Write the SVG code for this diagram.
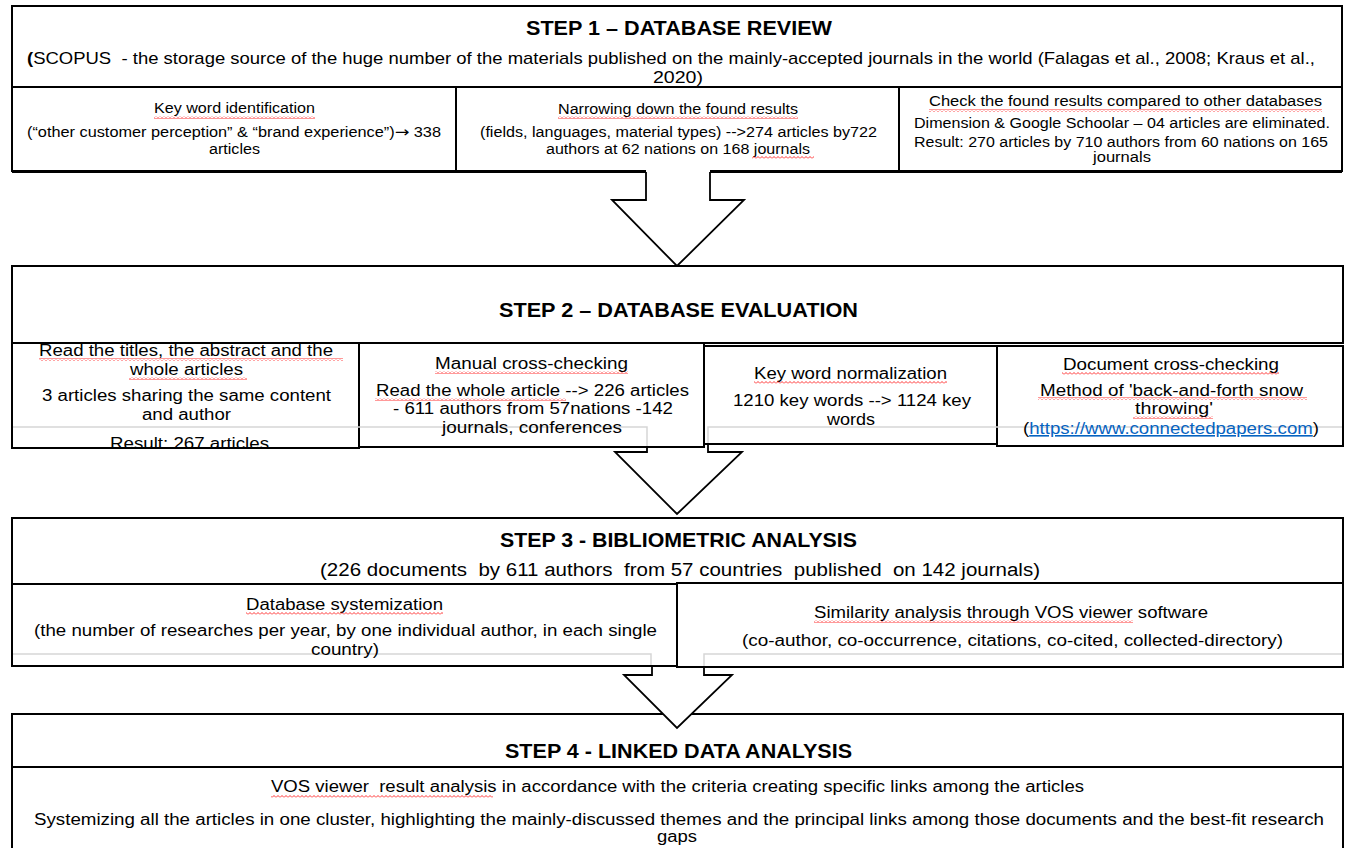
<svg xmlns="http://www.w3.org/2000/svg" width="1345" height="848" viewBox="0 0 1345 848">
<style>
text { font-family: "Liberation Sans", Arial, sans-serif; fill: #000; white-space: pre; text-anchor: middle; }
.t { font-weight: bold; font-size: 20px; }
.s14 { font-size: 14px; }
.s16 { font-size: 16px; }
.s17 { font-size: 17px; }
.s18 { font-size: 18px; }
.box { fill: #fff; stroke: #000; stroke-width: 2; }
.ln { stroke: #000; stroke-width: 2; fill: none; }
.gr { stroke: #d6d6d6; stroke-width: 1.5; fill: none; }
.sq { fill: url(#sq); }
.af { fill: #fff; stroke: none; }
.as { fill: none; stroke: #000; stroke-width: 1.8; stroke-linejoin: miter; }
.link { fill: #0563C1; text-decoration: underline; }
.arr { font-family: "DejaVu Sans", sans-serif; font-size: 15px; }
</style>
<defs>
<pattern id="sq" width="4" height="3" patternUnits="userSpaceOnUse">
<path d="M0,2.5 L2,0.5 L4,2.5" fill="none" stroke="#ff0000" stroke-width="0.8"/>
</pattern>
<clipPath id="c2a"><rect x="12" y="343" width="347" height="104"/></clipPath>
</defs>
<rect width="1345" height="848" fill="#fff"/>

<g id="step1">
<rect class="box" x="12" y="6" width="1330" height="165"/>
<line class="ln" x1="12" y1="87" x2="1342" y2="87"/>
<line class="ln" x1="456" y1="87" x2="456" y2="171"/>
<line class="ln" x1="899" y1="87" x2="899" y2="171"/>
<line class="ln" x1="12" y1="171.5" x2="1342" y2="171.5" style="stroke-width:3"/>
<text class="t" x="679" y="35" textLength="306" lengthAdjust="spacingAndGlyphs">STEP 1 – DATABASE REVIEW</text>
<text class="s17" x="27" y="64" style="text-anchor:start" textLength="1288" lengthAdjust="spacingAndGlyphs"><tspan font-weight="bold">(</tspan>SCOPUS  - the storage source of the huge number of the materials published on the mainly-accepted journals in the world (Falagas et al., 2008; Kraus et al.,</text>
<text class="s17" x="678" y="83" textLength="50" lengthAdjust="spacingAndGlyphs">2020)</text>
<text class="s14" x="234.5" y="113" textLength="161" lengthAdjust="spacingAndGlyphs">Key word identification</text>
<text class="s14" x="234" y="137" textLength="414" lengthAdjust="spacingAndGlyphs">(“other customer perception” &amp; “brand experience”)<tspan class="arr">→</tspan> 338</text>
<text class="s14" x="234.5" y="154" textLength="51" lengthAdjust="spacingAndGlyphs">articles</text>
<text class="s14" x="678" y="114" textLength="240" lengthAdjust="spacingAndGlyphs">Narrowing down the found results</text>
<text class="s14" x="678.5" y="137" textLength="397" lengthAdjust="spacingAndGlyphs">(fields, languages, material types) --&gt;274 articles by722</text>
<text class="s14" x="678" y="154" textLength="264" lengthAdjust="spacingAndGlyphs">authors at 62 nations on 168 journals</text>
<text class="s14" x="1125.5" y="106" textLength="393" lengthAdjust="spacingAndGlyphs">Check the found results compared to other databases</text>
<text class="s14" x="1122" y="128" textLength="416" lengthAdjust="spacingAndGlyphs">Dimension &amp; Google Schoolar – 04 articles are eliminated.</text>
<text class="s14" x="1121" y="147" textLength="414" lengthAdjust="spacingAndGlyphs">Result: 270 articles by 710 authors from 60 nations on 165</text>
<text class="s14" x="1122" y="162" textLength="58" lengthAdjust="spacingAndGlyphs">journals</text>
<rect class="sq" x="154" y="116" width="161" height="3"/>
<rect class="sq" x="558" y="116" width="240" height="3"/>
<rect class="sq" x="752" y="156" width="62" height="3"/>
<rect class="sq" x="929" y="109" width="393" height="3"/>
</g>

<g id="step4">
<rect class="box" x="12" y="714" width="1331" height="150"/>
<line class="ln" x1="12" y1="767" x2="1343" y2="767"/>
<text class="t" x="678.5" y="758" textLength="347" lengthAdjust="spacingAndGlyphs">STEP 4 - LINKED DATA ANALYSIS</text>
<text class="s16" x="677.5" y="792" textLength="813" lengthAdjust="spacingAndGlyphs">VOS viewer  result analysis in accordance with the criteria creating specific links among the articles</text>
<text class="s16" x="679" y="825" textLength="1290" lengthAdjust="spacingAndGlyphs">Systemizing all the articles in one cluster, highlighting the mainly-discussed themes and the principal links among those documents and the best-fit research</text>
<text class="s16" x="677" y="842" textLength="40" lengthAdjust="spacingAndGlyphs">gaps</text>
<rect class="sq" x="271" y="795" width="222" height="3"/>
</g>

<g id="connectors">
<polygon class="af" points="646,169 646,200 612,200 677,266 744,200 710,200 710,169"/>
<polyline class="as" points="646,172 646,200 612,200 677,266 744,200 710,200 710,172"/>
<polygon class="af" points="647,430 647,452 615,452 677,514 742,452 708,452 708,430"/>
<polyline class="as" points="647,430 647,452 615,452 677,514 742,452 708,452 708,430"/>
<polygon class="af" points="652,658 652,675 624,675 677,728 732,675 704,675 704,658"/>
<polyline class="as" points="652,658 652,675 624,675 677,728 732,675 704,675 704,658"/>
</g>

<g id="step2">
<rect class="box" x="12" y="266" width="1331" height="77"/>
<rect class="box" x="12" y="343" width="347" height="105"/>
<rect class="box" x="359" y="343" width="345" height="104"/>
<rect class="box" x="704" y="346" width="293" height="98"/>
<rect class="box" x="997" y="346" width="346" height="100"/>
<polyline class="gr" points="13,427 647,427 647,446"/>
<polyline class="gr" points="708,443 708,427 1342,427"/>
<text class="t" x="678.5" y="317" textLength="359" lengthAdjust="spacingAndGlyphs">STEP 2 – DATABASE EVALUATION</text>
<text class="s16" x="186" y="356" textLength="294" lengthAdjust="spacingAndGlyphs">Read the titles, the abstract and the</text>
<text class="s16" x="186.5" y="375" textLength="113" lengthAdjust="spacingAndGlyphs">whole articles</text>
<text class="s16" x="186.5" y="401" textLength="289" lengthAdjust="spacingAndGlyphs">3 articles sharing the same content</text>
<text class="s16" x="186.5" y="420" textLength="89" lengthAdjust="spacingAndGlyphs">and author</text>
<text class="s16" x="189.5" y="449" textLength="159" lengthAdjust="spacingAndGlyphs" clip-path="url(#c2a)">Result: 267 articles</text>
<text class="s16" x="531.5" y="369" textLength="193" lengthAdjust="spacingAndGlyphs">Manual cross-checking</text>
<text class="s16" x="532.5" y="396" textLength="313" lengthAdjust="spacingAndGlyphs">Read the whole article --&gt; 226 articles</text>
<text class="s16" x="533" y="414" textLength="280" lengthAdjust="spacingAndGlyphs">- 611 authors from 57nations -142</text>
<text class="s16" x="532" y="433" textLength="180" lengthAdjust="spacingAndGlyphs">journals, conferences</text>
<text class="s16" x="850.5" y="379" textLength="193" lengthAdjust="spacingAndGlyphs">Key word normalization</text>
<text class="s16" x="852" y="406" textLength="238" lengthAdjust="spacingAndGlyphs">1210 key words --&gt; 1124 key</text>
<text class="s16" x="851" y="425" textLength="48" lengthAdjust="spacingAndGlyphs">words</text>
<text class="s16" x="1171" y="370" textLength="216" lengthAdjust="spacingAndGlyphs">Document cross-checking</text>
<text class="s16" x="1171.5" y="396" textLength="263" lengthAdjust="spacingAndGlyphs">Method of 'back-and-forth snow</text>
<text class="s16" x="1174" y="414" textLength="78" lengthAdjust="spacingAndGlyphs">throwing'</text>
<text class="s16" x="1171" y="434" textLength="296" lengthAdjust="spacingAndGlyphs">(<tspan class="link">https://www.connectedpapers.com</tspan>)</text>
<rect class="sq" x="39" y="358" width="304" height="3"/>
<rect class="sq" x="129" y="377" width="118" height="3"/>
<rect class="sq" x="435" y="371" width="193" height="3"/>
<rect class="sq" x="375" y="398" width="191" height="3"/>
<rect class="sq" x="754" y="381" width="193" height="3"/>
<rect class="sq" x="1062" y="372" width="217" height="3"/>
<rect class="sq" x="1038" y="397" width="269" height="3"/>
<rect class="sq" x="1133" y="416" width="80" height="3"/>
</g>

<g id="step3">
<rect class="box" x="12" y="518" width="1331" height="66"/>
<rect class="box" x="12" y="584" width="666" height="82"/>
<rect class="box" x="677" y="583" width="666" height="84"/>
<polyline class="gr" points="13,654 651,654 651,665"/>
<polyline class="gr" points="704,666 704,654 1342,654"/>
<text class="t" x="678.5" y="547" textLength="357" lengthAdjust="spacingAndGlyphs">STEP 3 - BIBLIOMETRIC ANALYSIS</text>
<text class="s18" x="680" y="576" textLength="720" lengthAdjust="spacingAndGlyphs">(226 documents  by 611 authors  from 57 countries  published  on 142 journals)</text>
<text class="s16" x="344.5" y="610" textLength="197" lengthAdjust="spacingAndGlyphs">Database systemization</text>
<text class="s16" x="345.5" y="636" textLength="623" lengthAdjust="spacingAndGlyphs">(the number of researches per year, by one individual author, in each single</text>
<text class="s16" x="345" y="655" textLength="68" lengthAdjust="spacingAndGlyphs">country)</text>
<text class="s16" x="1011" y="618" textLength="394" lengthAdjust="spacingAndGlyphs">Similarity analysis through VOS viewer software</text>
<text class="s16" x="1012.5" y="646" textLength="541" lengthAdjust="spacingAndGlyphs">(co-author, co-occurrence, citations, co-cited, collected-directory)</text>
<rect class="sq" x="246" y="612" width="197" height="3"/>
<rect class="sq" x="814" y="620" width="319" height="3"/>
</g>
</svg>
